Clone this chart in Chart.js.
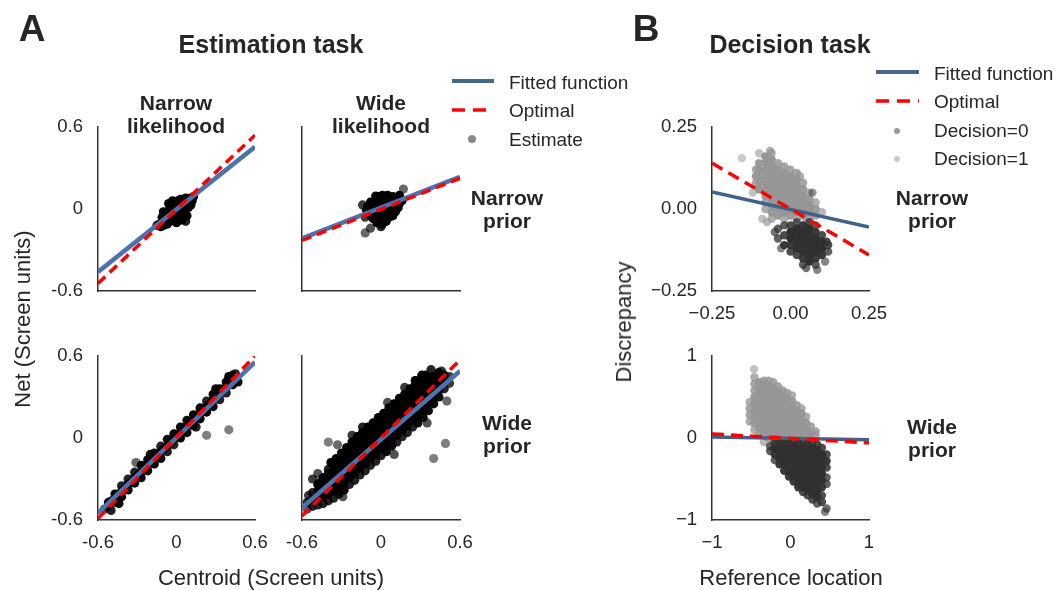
<!DOCTYPE html>
<html>
<head>
<meta charset="utf-8">
<script src="https://cdn.jsdelivr.net/npm/chart.js@4.4.1/dist/chart.umd.min.js"></script>
<style>
  body { margin: 0; background: #fff; }
  #page { position: relative; width: 1062px; height: 590px; overflow: hidden;
          font-family: 'Liberation Sans', Arial, sans-serif; color: #262626; }
  #page canvas { position: absolute; left: 0; top: 0; }
  .t { position: absolute; white-space: nowrap; line-height: 1; transform: translate(-50%, -50%); }
  .b { font-weight: bold; }
  .blk { position: absolute; transform: translateX(-50%); text-align: center;
         font-weight: bold; font-size: 21px; line-height: 23px; white-space: nowrap; }
  .leg { position: absolute; font-size: 19px; line-height: 1; white-space: nowrap; transform: translateY(-50%); }
  .sw { position: absolute; }
  .dot { position: absolute; border-radius: 50%; transform: translate(-50%, -50%); }
</style>
</head>
<body>
<div id="page">
  <canvas id="cNN" width="1062" height="590"></canvas>
  <canvas id="cNW" width="1062" height="590"></canvas>
  <canvas id="cWN" width="1062" height="590"></canvas>
  <canvas id="cWW" width="1062" height="590"></canvas>
  <canvas id="cDN" width="1062" height="590"></canvas>
  <canvas id="cDW" width="1062" height="590"></canvas>

  <div class="t b" style="left:32px;top:28px;font-size:37px">A</div>
  <div class="t b" style="left:646px;top:28px;font-size:37px">B</div>
  <div class="t b" style="left:271px;top:44px;font-size:25px">Estimation task</div>
  <div class="t b" style="left:790px;top:44px;font-size:25px">Decision task</div>

  <div class="blk" style="left:176px;top:91px">Narrow<br>likelihood</div>
  <div class="blk" style="left:381px;top:91px">Wide<br>likelihood</div>
  <div class="blk" style="left:507px;top:186px">Narrow<br>prior</div>
  <div class="blk" style="left:507px;top:411px">Wide<br>prior</div>
  <div class="blk" style="left:932px;top:186px">Narrow<br>prior</div>
  <div class="blk" style="left:932px;top:415px">Wide<br>prior</div>

  <div class="t" style="left:271px;top:578px;font-size:22px">Centroid (Screen units)</div>
  <div class="t" style="left:791px;top:578px;font-size:22px">Reference location</div>
  <div class="t" style="left:23px;top:319px;font-size:22px;transform:translate(-50%,-50%) rotate(-90deg)">Net (Screen units)</div>
  <div class="t" style="left:624px;top:322px;font-size:22px;transform:translate(-50%,-50%) rotate(-90deg)">Discrepancy</div>

  <!-- legend A -->
  <svg class="sw" style="left:452px;top:77px" width="42" height="8"><line x1="0" y1="4" x2="42" y2="4" stroke="#44678c" stroke-width="4"/></svg>
  <svg class="sw" style="left:452px;top:106px" width="42" height="8"><line x1="0" y1="4" x2="42" y2="4" stroke="#ff0000" stroke-width="3.5" stroke-dasharray="13 8"/></svg>
  <div class="dot" style="left:472px;top:139px;width:8px;height:8px;background:#8a8a8a"></div>
  <div class="leg" style="left:509px;top:82px">Fitted function</div>
  <div class="leg" style="left:509px;top:110px">Optimal</div>
  <div class="leg" style="left:509px;top:139px">Estimate</div>

  <!-- legend B -->
  <svg class="sw" style="left:876px;top:68px" width="43" height="8"><line x1="0" y1="4" x2="43" y2="4" stroke="#44678c" stroke-width="4"/></svg>
  <svg class="sw" style="left:876px;top:97px" width="43" height="8"><line x1="0" y1="4" x2="43" y2="4" stroke="#ff0000" stroke-width="3.5" stroke-dasharray="13 8"/></svg>
  <div class="dot" style="left:897px;top:131px;width:6px;height:6px;background:#9a9a9a"></div>
  <div class="dot" style="left:897px;top:159px;width:6px;height:6px;background:#c8c8c8"></div>
  <div class="leg" style="left:934px;top:73px">Fitted function</div>
  <div class="leg" style="left:934px;top:101px">Optimal</div>
  <div class="leg" style="left:934px;top:130px">Decision=0</div>
  <div class="leg" style="left:934px;top:158px">Decision=1</div>
</div>

<script>
// ---- A: estimation task (centroid vs net, screen units) ----
const tickA = [-0.6, 0, 0.6];
const tickLabelsA = ['-0.6', '0', '0.6'];
const lineXA = [-0.6, 0.6];

// narrow prior, narrow likelihood
const estNN = [[-.15,-.12],[-.13,-.11],[-.12,-.13],[-.11,-.06],[-.1,-.09],[-.1,-.12],[-.09,-.03],[-.08,-.06],
  [-.08,-.1],[-.07,-.08],[-.07,-.11],[-.06,.04],[-.06,-.02],[-.05,-.05],[-.05,-.09],[-.05,.01],[-.04,-.03],
  [-.04,-.07],[-.03,.06],[-.03,.02],[-.02,-.01],[-.02,-.05],[-.01,.04],[-.01,-.08],[0,0],[0,-.04],[0,-.1],
  [.01,.06],[.01,.02],[.02,-.02],[.02,-.06],[.03,.03],[.03,.07],[.04,-.01],[.04,-.08],[.05,.04],[.05,0],
  [.06,.06],[.06,-.03],[.07,.02],[.07,.08],[.07,-.09],[.08,-.05],[.08,.04],[.09,.06],[.09,.01],[.1,.05],
  [.11,.08],[.11,.03],[.12,.06],[.13,.09],[-.1,-.02]];
const fitNN = [-0.46, 0.455];
const optNN = [-0.545, 0.54];

// narrow prior, wide likelihood
const estNW = [[-.03,.09],[.01,.1],[.05,.1],[.09,.09],[-.08,.05],[-.04,.06],[0,.07],[.04,.06],[.08,.07],[.12,.06],
  [-.1,.02],[-.06,.03],[-.02,.03],[.02,.04],[.06,.03],[.1,.03],[.14,.04],[-.11,-.01],[-.07,0],[-.03,-.01],
  [.01,0],[.05,.01],[.09,0],[.13,.01],[-.09,-.04],[-.05,-.03],[-.01,-.04],[.03,-.03],[.07,-.03],[.11,-.02],
  [-.06,-.07],[-.02,-.06],[.02,-.07],[.06,-.06],[.09,-.05],[-.03,-.1],[.01,-.11],[.04,-.09],
  [-.12,-.175],[-.08,-.14],[.17,.146],[-.14,.03],[-.04,.095],[.14,.1],[.16,.06],[-.12,-.06],[0,-.13]];
const fitNW = [-0.215, 0.235];
const optNW = [-0.23, 0.225];

// wide prior, narrow likelihood
const estWN = [[-.52,-.5],[-.52,-.47],[-.47,-.47],[-.47,-.44],[-.47,-.41],[-.42,-.43],[-.42,-.39],[-.42,-.35],
  [-.37,-.38],[-.37,-.34],[-.37,-.3],[-.32,-.33],[-.32,-.29],[-.32,-.25],[-.27,-.29],[-.27,-.25],[-.27,-.2],
  [-.22,-.24],[-.22,-.2],[-.22,-.16],[-.17,-.19],[-.17,-.15],[-.17,-.11],[-.12,-.15],[-.12,-.1],[-.12,-.06],
  [-.07,-.1],[-.07,-.06],[-.07,-.01],[-.02,-.05],[-.02,-.01],[-.02,.03],[.03,0],[.03,.04],[.03,.08],
  [.08,.04],[.08,.09],[.08,.13],[.13,.09],[.13,.13],[.13,.17],[.18,.14],[.18,.18],[.18,.22],
  [.23,.19],[.23,.23],[.23,.27],[.28,.23],[.28,.28],[.28,.32],[.33,.28],[.33,.32],[.33,.36],
  [.38,.33],[.38,.37],[.38,.41],[.43,.39],[.43,.43],[.43,.46],
  [-.495,-.46],[-.445,-.42],[-.395,-.37],[-.345,-.32],[-.295,-.27],[-.245,-.22],[-.195,-.18],[-.145,-.13],
  [-.095,-.08],[-.045,-.03],[.005,.02],[.055,.06],[.105,.11],[.155,.16],[.205,.2],[.255,.25],[.305,.3],
  [.355,.35],[.405,.4],
  [-.31,-.18],[.23,.02],[.4,.06],[-.5,-.53],[-.44,-.48],[.45,.47],[.4,.45],[.47,.41],[-.55,-.52],
  [.3,.36],[-.2,-.12],[.15,.08]];
const fitWN = [-0.55, 0.556];
const optWN = [-0.59, 0.6];

// wide prior, wide likelihood
const estWW = [[-.56,-.52],[-.56,-.47],[-.52,-.5],[-.52,-.45],[-.52,-.4],
  [-.48,-.49],[-.48,-.44],[-.48,-.39],[-.48,-.34],[-.44,-.48],[-.44,-.43],[-.44,-.38],[-.44,-.33],[-.44,-.29],
  [-.4,-.46],[-.4,-.41],[-.4,-.36],[-.4,-.31],[-.4,-.26],[-.4,-.23],
  [-.36,-.44],[-.36,-.39],[-.36,-.34],[-.36,-.29],[-.36,-.24],[-.36,-.2],
  [-.32,-.41],[-.32,-.36],[-.32,-.31],[-.32,-.26],[-.32,-.21],[-.32,-.16],
  [-.28,-.38],[-.28,-.33],[-.28,-.28],[-.28,-.23],[-.28,-.18],[-.28,-.13],
  [-.24,-.34],[-.24,-.29],[-.24,-.24],[-.24,-.19],[-.24,-.14],[-.24,-.09],
  [-.2,-.31],[-.2,-.26],[-.2,-.21],[-.2,-.16],[-.2,-.11],[-.2,-.06],[-.2,-.04],
  [-.16,-.27],[-.16,-.22],[-.16,-.17],[-.16,-.12],[-.16,-.07],[-.16,-.02],
  [-.12,-.24],[-.12,-.19],[-.12,-.14],[-.12,-.09],[-.12,-.04],[-.12,.01],[-.12,.03],
  [-.08,-.2],[-.08,-.15],[-.08,-.1],[-.08,-.05],[-.08,0],[-.08,.05],
  [-.04,-.17],[-.04,-.12],[-.04,-.07],[-.04,-.02],[-.04,.03],[-.04,.08],[-.04,.1],
  [0,-.13],[0,-.08],[0,-.03],[0,.02],[0,.07],[0,.12],
  [.04,-.1],[.04,-.05],[.04,0],[.04,.05],[.04,.1],[.04,.15],[.04,.17],
  [.08,-.06],[.08,-.01],[.08,.04],[.08,.09],[.08,.14],[.08,.19],
  [.12,-.03],[.12,.02],[.12,.07],[.12,.12],[.12,.17],[.12,.22],[.12,.24],
  [.16,.01],[.16,.06],[.16,.11],[.16,.16],[.16,.21],[.16,.26],
  [.2,.04],[.2,.09],[.2,.14],[.2,.19],[.2,.24],[.2,.29],[.2,.31],
  [.24,.08],[.24,.13],[.24,.18],[.24,.23],[.24,.28],[.24,.33],
  [.28,.11],[.28,.16],[.28,.21],[.28,.26],[.28,.31],[.28,.36],[.28,.39],
  [.32,.15],[.32,.2],[.32,.25],[.32,.3],[.32,.35],[.32,.4],
  [.36,.2],[.36,.25],[.36,.3],[.36,.35],[.36,.4],[.36,.44],
  [.4,.25],[.4,.3],[.4,.35],[.4,.4],[.4,.45],
  [.44,.3],[.44,.35],[.44,.4],[.44,.45],[.44,.48],
  [.48,.36],[.48,.41],[.48,.46],[.52,.4],[.52,.45],
  [-.38,-.18],[-.34,-.15],[-.3,-.11],[-.26,-.07],[-.22,-.03],[-.18,.01],[-.14,.04],[-.1,.08],[-.06,.11],
  [-.02,.15],[.02,.18],[.06,.22],[.1,.25],[.14,.29],[.18,.32],[.22,.36],[.26,.39],[.3,.43],[.34,.46],
  [-.4,-.03],[-.33,-.05],[.4,-.15],[.49,-.04],[.35,.11],[.05,.26],[.18,.37],[-.14,.08],[-.48,-.26],
  [-.47,-.33],[-.29,-.43],[.31,.46],[.46,.49],[.5,.27],[-.55,-.42],[.38,.5],[.26,.42],[-.22,.02],
  [.1,-.12],[-.52,-.3]];
const fitWW = [-0.51, 0.49];
const optWW = [-0.57, 0.57];

// ---- B: decision task (reference location vs discrepancy) ----
const tickBN = [-0.25, 0, 0.25];
const tickLabelsBN = ['\u22120.25', '0.00', '0.25'];
const tickBW = [-1, 0, 1];
const tickLabelsBW = ['\u22121', '0', '1'];
const lineXBN = [-0.25, 0.25];
const lineXBW = [-1, 1];

// narrow prior
const decN1 = [[-.11,.12],[-.11,.1],[-.11,.08],[-.1,.17],[-.1,.14],[-.1,.12],[-.1,.1],[-.1,.08],[-.1,.06],
  [-.08,.16],[-.08,.14],[-.08,.12],[-.08,.1],[-.08,.08],[-.08,.06],[-.08,.04],[-.08,.02],[-.08,0],
  [-.06,.17],[-.06,.15],[-.06,.13],[-.06,.11],[-.06,.09],[-.06,.07],[-.06,.05],[-.06,.03],[-.06,.01],[-.06,-.01],[-.06,-.03],
  [-.04,.14],[-.04,.12],[-.04,.1],[-.04,.08],[-.04,.06],[-.04,.04],[-.04,.02],[-.04,0],[-.04,-.02],
  [-.02,.13],[-.02,.11],[-.02,.09],[-.02,.07],[-.02,.05],[-.02,.03],[-.02,.01],[-.02,-.01],[-.02,-.03],
  [0,.12],[0,.1],[0,.08],[0,.06],[0,.04],[0,.02],[0,0],[0,-.02],
  [.02,.11],[.02,.09],[.02,.07],[.02,.05],[.02,.03],[.02,.01],[.02,-.01],[.02,-.03],
  [.04,.08],[.04,.06],[.04,.04],[.04,.02],[.04,0],[.04,-.02],
  [.06,.05],[.06,.03],[.06,.01],[.06,-.01],[.06,-.03],[.08,.02],[.08,0],[.08,-.02],
  [-.155,.155],[-.065,.177],[.1,-.01],[.03,.1],[-.09,-.03],[-.075,-.04],[.05,-.04],[-.12,.05]];
const decN0 = [[-.04,-.06],[-.04,-.09],[-.02,-.05],[-.02,-.08],[-.02,-.11],
  [0,-.05],[0,-.07],[0,-.09],[0,-.11],[0,-.13],
  [.02,-.04],[.02,-.06],[.02,-.08],[.02,-.1],[.02,-.12],[.02,-.14],
  [.04,-.05],[.04,-.07],[.04,-.09],[.04,-.11],[.04,-.13],[.04,-.15],[.04,-.17],
  [.06,-.04],[.06,-.06],[.06,-.08],[.06,-.1],[.06,-.12],[.06,-.14],[.06,-.16],
  [.08,-.05],[.08,-.07],[.08,-.09],[.08,-.11],[.08,-.13],[.08,-.15],[.08,-.17],
  [.1,-.08],[.1,-.1],[.1,-.12],[.1,-.14],[.12,-.11],[.12,-.13],
  [.085,-.185],[.07,.05],[.115,-.1],[-.05,-.07],[.05,-.18],[.11,-.16],[-.03,-.12]];
const fitDN = [0.052, -0.055];
const optDN = [0.14, -0.14];

// wide prior
const decW1 = [[-.52,.2],[-.52,.28],[-.52,.36],[-.52,.44],
  [-.46,.1],[-.46,.18],[-.46,.26],[-.46,.34],[-.46,.42],[-.46,.5],[-.46,.58],[-.46,.66],[-.46,.74],[-.465,.84],
  [-.4,.05],[-.4,.12],[-.4,.2],[-.4,.28],[-.4,.36],[-.4,.44],[-.4,.52],[-.4,.6],[-.4,.68],
  [-.34,-.05],[-.34,.03],[-.34,.1],[-.34,.18],[-.34,.26],[-.34,.34],[-.34,.42],[-.34,.5],[-.34,.58],[-.34,.66],[-.34,.7],
  [-.28,0],[-.28,.08],[-.28,.16],[-.28,.24],[-.28,.32],[-.28,.4],[-.28,.48],[-.28,.56],[-.28,.64],[-.28,.7],
  [-.22,-.03],[-.22,.05],[-.22,.13],[-.22,.21],[-.22,.29],[-.22,.37],[-.22,.45],[-.22,.53],[-.22,.61],[-.22,.68],
  [-.16,0],[-.16,.08],[-.16,.16],[-.16,.24],[-.16,.32],[-.16,.4],[-.16,.48],[-.16,.56],[-.16,.63],
  [-.1,-.04],[-.1,.04],[-.1,.12],[-.1,.2],[-.1,.28],[-.1,.36],[-.1,.44],[-.1,.52],[-.1,.58],
  [-.04,0],[-.04,.08],[-.04,.16],[-.04,.24],[-.04,.32],[-.04,.4],[-.04,.48],[-.04,.55],
  [.02,-.03],[.02,.05],[.02,.13],[.02,.21],[.02,.29],[.02,.37],[.02,.45],[.02,.52],
  [.08,0],[.08,.08],[.08,.16],[.08,.24],[.08,.32],[.08,.4],
  [.14,-.02],[.14,.06],[.14,.14],[.14,.22],[.14,.3],[.14,.36],
  [.2,.02],[.2,.1],[.2,.18],[.2,.26],[.26,0],[.26,.06],[.26,.14],[.32,.03],[.32,.08]];
const decW0 = [[-.26,-.1],[-.26,-.16],[-.2,-.06],[-.2,-.13],[-.2,-.2],[-.2,-.27],
  [-.14,-.04],[-.14,-.11],[-.14,-.18],[-.14,-.25],[-.14,-.32],
  [-.08,-.05],[-.08,-.12],[-.08,-.19],[-.08,-.26],[-.08,-.33],[-.08,-.4],
  [-.02,-.06],[-.02,-.13],[-.02,-.2],[-.02,-.27],[-.02,-.34],[-.02,-.41],[-.02,-.47],
  [.04,-.04],[.04,-.11],[.04,-.18],[.04,-.25],[.04,-.32],[.04,-.39],[.04,-.46],[.04,-.53],
  [.1,-.06],[.1,-.13],[.1,-.2],[.1,-.27],[.1,-.34],[.1,-.41],[.1,-.48],[.1,-.55],[.1,-.6],
  [.16,-.04],[.16,-.11],[.16,-.18],[.16,-.25],[.16,-.32],[.16,-.39],[.16,-.46],[.16,-.53],[.16,-.6],[.16,-.66],
  [.22,-.07],[.22,-.14],[.22,-.21],[.22,-.28],[.22,-.35],[.22,-.42],[.22,-.49],[.22,-.56],[.22,-.63],[.22,-.7],
  [.28,-.05],[.28,-.12],[.28,-.19],[.28,-.26],[.28,-.33],[.28,-.4],[.28,-.47],[.28,-.54],[.28,-.61],[.28,-.68],[.28,-.75],
  [.34,-.08],[.34,-.15],[.34,-.22],[.34,-.29],[.34,-.36],[.34,-.43],[.34,-.5],[.34,-.57],[.34,-.64],[.34,-.72],[.34,-.8],
  [.4,-.12],[.4,-.2],[.4,-.28],[.4,-.36],[.4,-.44],[.4,-.52],[.4,-.6],[.4,-.7],[.4,-.78],
  [.46,-.2],[.46,-.28],[.46,-.36],[.46,-.48],[.46,-.56],[.46,-.86],[.44,-.9]];
const fitDW = [0.012, -0.02];
const optDW = [0.05, -0.06];

// ---- drawing ----
const W = 1062, H = 590, YW = 60, XH = 40;
Chart.defaults.font.family = "'Liberation Sans', Arial, sans-serif";
Chart.defaults.color = '#262626';

function axis(range, ticks, labels, show, horiz) {
  return {
    type: 'linear', min: range[0], max: range[1],
    grid: { display: false, drawTicks: false },
    border: { display: true, color: '#333', width: 1.5 },
    afterBuildTicks: s => { s.ticks = ticks.map(v => ({ value: v })); },
    afterFit: s => { if (horiz) s.height = XH; else s.width = YW; },
    ticks: {
      display: show, autoSkip: false, maxRotation: 0, padding: horiz ? 12 : 15,
      color: '#262626', font: { size: 18.5 },
      callback: (v, i) => labels[i]
    }
  };
}

function lineSet(xs, ys, color, width, dash, order) {
  return {
    data: xs.map((x, i) => ({ x: x, y: ys[i] })), showLine: true,
    borderColor: color, borderWidth: width, borderDash: dash, borderCapStyle: 'butt',
    pointRadius: 0, fill: false, order: order
  };
}

// points in crowded parts of a cloud look solid (thousands of overlapping marks in the original)
function shade(pts, rgb, rx, ry) {
  return pts.map(p => {
    let n = 0;
    pts.forEach(q => {
      if (q !== p && ((p[0] - q[0]) / rx) ** 2 + ((p[1] - q[1]) / ry) ** 2 < 1) n++;
    });
    return 'rgba(' + rgb + ',' + Math.min(1, 0.5 + 0.09 * n).toFixed(2) + ')';
  });
}

function dotSet(pts, rgb, rx, ry, r, order) {
  return {
    data: pts.map(p => ({ x: p[0], y: p[1] })),
    backgroundColor: shade(pts, rgb, rx, ry), borderColor: 'rgba(0,0,0,0)', borderWidth: 0,
    pointBackgroundColor: shade(pts, rgb, rx, ry), pointBorderWidth: 0,
    pointBorderColor: 'rgba(0,0,0,0)', pointRadius: r, pointHoverRadius: r, order: order
  };
}

function panel(id, box, xs, ys, datasets) {
  new Chart(document.getElementById(id), {
    type: 'scatter',
    data: { datasets: datasets },
    options: {
      responsive: false, animation: false, events: [],
      layout: { padding: { left: box[0] - YW, top: box[1], right: W - box[2], bottom: H - box[3] - XH } },
      plugins: { legend: { display: false }, tooltip: { enabled: false } },
      scales: { x: xs, y: ys }
    }
  });
}

const blueA = '#4c72b0', blueB = '#40628a', red = '#ff0000';
const rangeA = [-0.6, 0.6];

function estPanel(id, box, pts, fit, opt, showX, showY) {
  panel(id, box,
    axis(rangeA, tickA, tickLabelsA, showX, true),
    axis(rangeA, tickA, tickLabelsA, showY, false),
    [lineSet(lineXA, opt, red, 3.5, [10, 6], 0),
     lineSet(lineXA, fit, blueA, 4.5, [], 1),
     dotSet(pts, '0,0,0', 0.07, 0.07, 4.6, 2)]);
}

estPanel('cNN', [98, 127, 255, 291], estNN, fitNN, optNN, false, true);
estPanel('cNW', [302, 127, 460, 291], estNW, fitNW, optNW, false, false);
estPanel('cWN', [98, 356, 255, 520], estWN, fitWN, optWN, true, true);
estPanel('cWW', [302, 356, 460, 520], estWW, fitWW, optWW, true, false);

panel('cDN', [712, 127, 869, 291],
  axis([-0.25, 0.25], tickBN, tickLabelsBN, true, true),
  axis([-0.25, 0.25], tickBN, tickLabelsBN, true, false),
  [lineSet(lineXBN, optDN, red, 3.5, [12, 7], 0),
   lineSet(lineXBN, fitDN, blueB, 3.5, [], 1),
   dotSet(decN0, '48,48,48', 0.03, 0.03, 4.2, 2),
   dotSet(decN1, '150,150,150', 0.03, 0.03, 4.2, 3)]);

panel('cDW', [712, 356, 869, 520],
  axis([-1, 1], tickBW, tickLabelsBW, true, true),
  axis([-1, 1], tickBW, tickLabelsBW, true, false),
  [lineSet(lineXBW, optDW, red, 3.5, [12, 7], 0),
   lineSet(lineXBW, fitDW, blueB, 3.5, [], 1),
   dotSet(decW0, '48,48,48', 0.09, 0.11, 4.2, 2),
   dotSet(decW1, '150,150,150', 0.09, 0.11, 4.2, 3)]);
</script>
</body>
</html>
